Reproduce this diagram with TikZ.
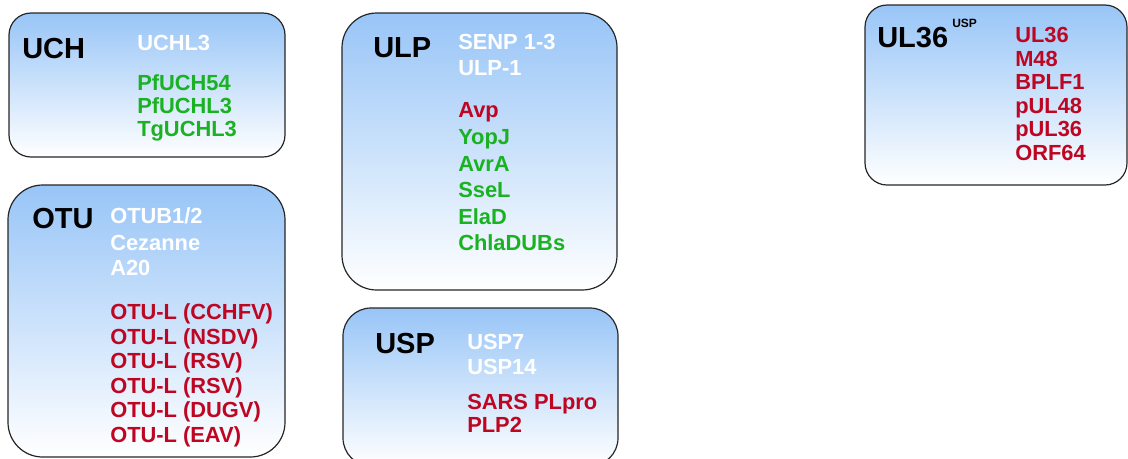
\documentclass[tikz,border=0pt]{standalone}
\usepackage{fontspec}
\setmainfont{Liberation Sans}
\definecolor{boxblue}{RGB}{152,197,247}
\definecolor{itemgreen}{RGB}{26,178,34}
\definecolor{itemred}{RGB}{190,6,34}
\tikzset{
  fam/.style n args={3}{draw=black!85, line width=0.9pt, top color=boxblue, bottom color=white,
    rounded corners=#3, minimum width=#1, minimum height=#2, inner sep=0pt},
  hdr/.style={font=\fontsize{21.75}{26}\selectfont\bfseries, anchor=base west, inner sep=0pt, text=black},
  itm/.style={font=\fontsize{16.4}{18}\selectfont\bfseries, anchor=base west, inner sep=0pt,
    text height=0.74em, text depth=0.16em},
  wht/.style={itm, text=white},
  grn/.style={itm, text=itemgreen},
  red/.style={itm, text=itemred},
}
\begin{document}
\begin{tikzpicture}[x=0.75pt,y=-0.75pt]
\useasboundingbox (0,0) rectangle (1128,458);
\clip (0,0) rectangle (1128,458);
% boxes
\node[fam={207pt}{108pt}{16.5pt}] (uchbox) at (147,85) {};
\node[fam={207.75pt}{204pt}{26pt}] (otubox) at (146.5,321) {};
\node[fam={206.25pt}{207.75pt}{26pt}] (ulpbox) at (479.5,151.5) {};
\node[fam={206.25pt}{118.5pt}{21pt}] (uspbox) at (480.5,387) {};
\node[fam={196.5pt}{135pt}{16.5pt}] (ul36box) at (996,95) {};
% UCH
\node[hdr] (uch) at (22,58.5) {UCH};
\node[wht] (uchw1) at (137,50.5) {UCHL3};
\foreach \t [count=\i] in {PfUCH54,PfUCHL3,TgUCHL3}
  \node[grn] (uchg\i) at (137,90.5+23*\i-23) {\t};
% OTU
\node[hdr] (otu) at (32,228.5) {OTU};
\node[wht] (otuw1) at (110,223) {OTUB1/2};
\node[wht] (otuw2) at (110,250) {Cezanne};
\node[wht] (otuw3) at (110,275.5) {A20};
\foreach \t [count=\i] in {{OTU-L (CCHFV)},{OTU-L (NSDV)},{OTU-L (RSV)},{OTU-L (RSV)},{OTU-L (DUGV)},{OTU-L (EAV)}}
  \node[red] (otur\i) at (110,319.5+24.5*\i-24.5) {\t};
% ULP
\node[hdr] (ulp) at (373,57.5) {ULP};
\foreach \t [count=\i] in {SENP 1-3,ULP-1}
  \node[wht] (ulpw\i) at (458,49.5+26*\i-26) {\t};
\node[red] (ulpr1) at (458,117.5) {Avp};
\foreach \t [count=\i] in {YopJ,AvrA,SseL,ElaD,ChlaDUBs}
  \node[grn] (ulpg\i) at (458,144.5+26.6*\i-26.6) {\t};
% USP
\node[hdr] (usp) at (375,353.5) {USP};
\foreach \t [count=\i] in {USP7,USP14}
  \node[wht] (uspw\i) at (467,349.5+25*\i-25) {\t};
\foreach \t [count=\i] in {SARS PLpro,PLP2}
  \node[red] (uspr\i) at (467,409.5+23*\i-23) {\t};
% UL36
\node[hdr] (ul36) at (877,47.5) {UL36};
\node[font=\fontsize{9}{10}\selectfont\bfseries, anchor=base west, inner sep=0pt] (ul36sup) at (952,27.5) {USP};
\foreach \t [count=\i] in {UL36,M48,BPLF1,pUL48,pUL36,ORF64}
  \node[red] (ul36r\i) at (1015,42.5+23.5*\i-23.5) {\t};
\end{tikzpicture}
\end{document}
